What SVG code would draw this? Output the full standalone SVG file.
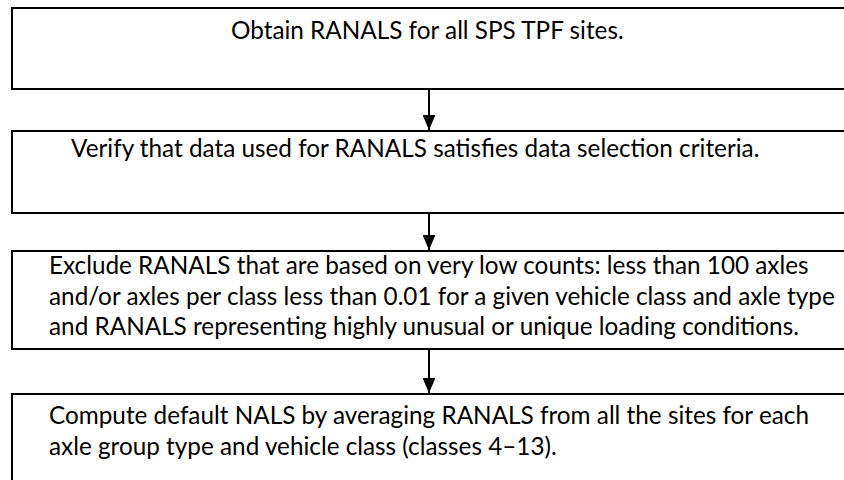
<svg xmlns="http://www.w3.org/2000/svg" width="844" height="480" viewBox="0 0 844 480">
<style>
.box{fill:#fff;stroke:#000;stroke-width:2}
.t{font-family:Lato,"Liberation Sans",Arial,sans-serif;font-size:24.3px;fill:#000}
.c{stroke:#000;stroke-width:2;fill:none}
</style>
<defs>
<marker id="ah" markerWidth="7.5" markerHeight="6.4" refX="7.5" refY="3.2" orient="auto" markerUnits="strokeWidth">
<path d="M0,0 L7.5,3.2 L0,6.4 Z" fill="#000"/>
</marker>
</defs>
<rect width="844" height="480" fill="#fff"/>
<g id="n1">
<rect class="box" x="12" y="8" width="840" height="81"/>
<text class="t" x="231" y="39">Obtain RANALS for all SPS TPF sites.</text>
</g>
<g id="n2">
<rect class="box" x="12" y="131" width="840" height="82"/>
<text class="t" x="71" y="157">Verify that data used for RANALS satisfies data selection criteria.</text>
</g>
<g id="n3">
<rect class="box" x="12" y="251" width="840" height="98"/>
<text class="t" x="49" y="274">Exclude RANALS that are based on very low counts: less than 100 axles</text>
<text class="t" x="49" y="305">and/or axles per class less than 0.01 for a given vehicle class and axle type</text>
<text class="t" x="49" y="335">and RANALS representing highly unusual or unique loading conditions.</text>
</g>
<g id="n4">
<rect class="box" x="12" y="394" width="840" height="100"/>
<text class="t" x="49" y="424">Compute default NALS by averaging RANALS from all the sites for each</text>
<text class="t" x="49" y="455">axle group type and vehicle class (classes 4–13).</text>
</g>
<g id="connectors">
<line class="c" x1="429" y1="90" x2="429" y2="130" marker-end="url(#ah)"/>
<line class="c" x1="429" y1="214" x2="429" y2="250" marker-end="url(#ah)"/>
<line class="c" x1="429" y1="350" x2="429" y2="393" marker-end="url(#ah)"/>
</g>
</svg>
